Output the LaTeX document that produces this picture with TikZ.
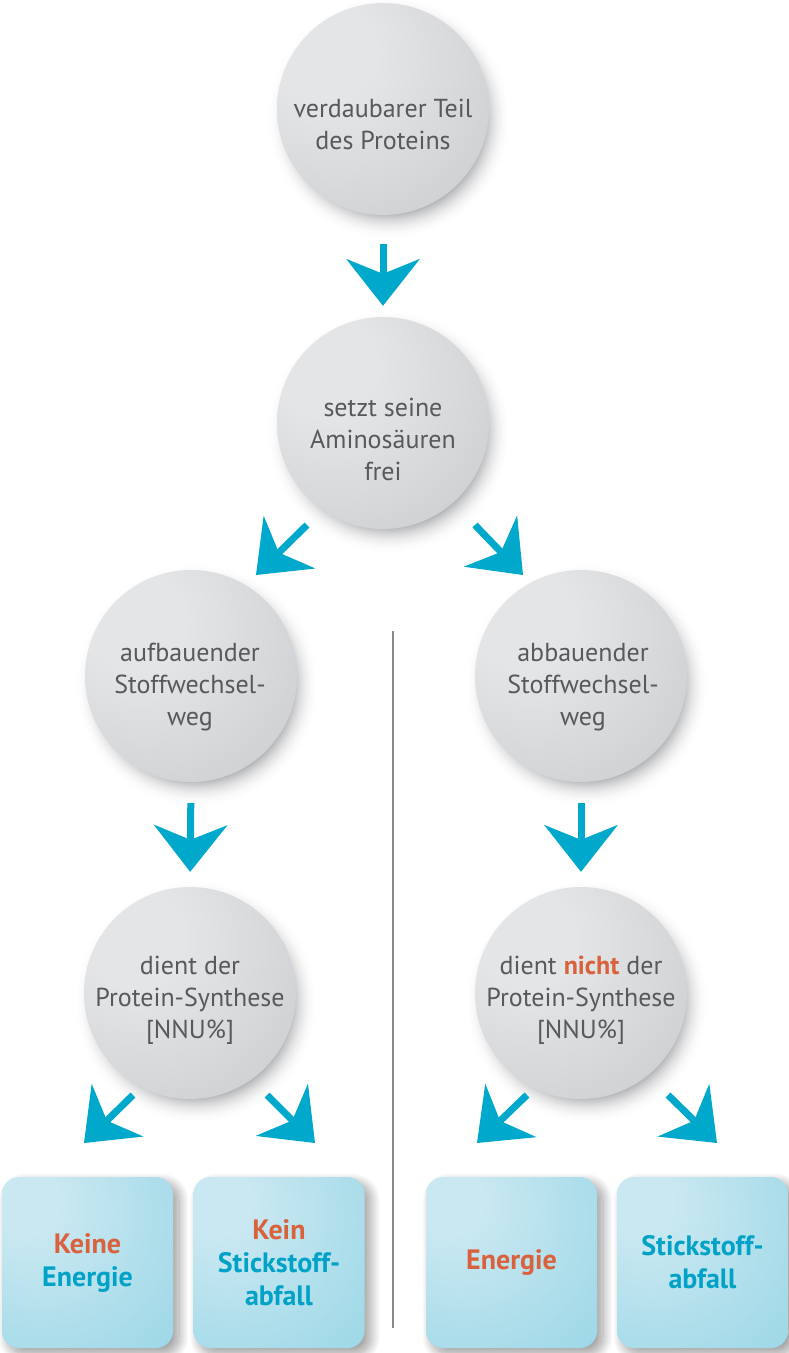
\documentclass[tikz,border=0pt]{standalone}
\usepackage{fontspec}
\setmainfont{PT Sans}
\usetikzlibrary{arrows.meta,shadows.blur}
\definecolor{ballA}{HTML}{E4E5E7}
\definecolor{ballB}{HTML}{BBBCBF}
\definecolor{boxA}{HTML}{C9E8F1}
\definecolor{boxB}{HTML}{86CFE2}
\definecolor{arrc}{HTML}{00A8CC}
\definecolor{txtg}{HTML}{58595B}
\definecolor{cyt}{HTML}{00A3C7}
\definecolor{orgt}{HTML}{D9613C}
\definecolor{sepl}{HTML}{8A8A8A}
\definecolor{shdA}{HTML}{A9AAAD}
\pgfdeclareradialshading{ballshade}{\pgfpoint{-15bp}{15bp}}{color(0bp)=(ballA); color(12bp)=(ballA); color(68bp)=(ballB); color(100bp)=(ballB)}
\pgfdeclareradialshading{boxshade}{\pgfpoint{-20bp}{20bp}}{color(0bp)=(boxA); color(10bp)=(boxA); color(70bp)=(boxB); color(100bp)=(boxB)}
\tikzset{
  ball/.style={circle, minimum size=212pt, inner sep=0pt, shading=ballshade},
  balltext/.style={align=center, text=txtg, font=\fontsize{26pt}{32pt}\selectfont, inner sep=0pt},
  boxn/.style={rectangle, rounded corners=17pt, minimum width=171pt, minimum height=171pt,
    inner sep=0pt, shading=boxshade, align=center, text=cyt,
    font=\fontsize{28pt}{33pt}\selectfont\bfseries,
    blur shadow={shadow xshift=6pt, shadow yshift=-6pt, shadow blur radius=10pt, shadow opacity=40, shadow blur steps=25}},
  arr/.style={draw=arrc, line width=7pt, -{Stealth[length=47pt, width=74pt, inset=15pt, line width=0pt, fill=arrc]}},
}
\begin{document}
\begin{tikzpicture}[x=1pt, y=-1pt]
\useasboundingbox (0,0) rectangle (789,1353);
% positions
\coordinate (p1) at (383,109);
\coordinate (p2) at (383,423);
\coordinate (p3) at (191,676);
\coordinate (p4) at (581,676);
\coordinate (p5) at (190,993);
\coordinate (p6) at (581,993);
% soft shadows of the discs
\foreach \p in {p1,p2,p3,p4,p5,p6}{
  \foreach \k in {0,...,28}{
    \pgfmathsetmacro{\rr}{122-\k}
    \pgfmathsetmacro{\pc}{min(100,\k*\k/7.84)}
    \fill[shdA!\pc!white] ([shift={(6,9)}]\p) circle (\rr pt);
  }
}
% separator
\coordinate (sepTop) at (393,631);
\coordinate (sepBot) at (393,1328);
\draw[sepl, line width=2pt] (sepTop) -- (sepBot);
% circles
\node[ball] (c1) at (p1) {};
\node[ball] (c2) at (p2) {};
\node[ball] (c3) at (p3) {};
\node[ball] (c4) at (p4) {};
\node[ball] (c5) at (p5) {};
\node[ball] (c6) at (p6) {};
\node[balltext] (t1) at (383,124) {verdaubarer Teil\\des Proteins};
\node[balltext] (t2) at (383,439) {setzt seine\\Aminosäuren\\frei};
\node[balltext] (t3) at (190,687) {aufbauender\\Stoffwechsel-\\weg};
\node[balltext] (t4) at (583,687) {abbauender\\Stoffwechsel-\\weg};
\node[balltext] (t5) at (190,1000) {dient der\\Protein-Synthese\\{[NNU\%]}};
\node[balltext] (t6) at (581,1000) {dient \textcolor{orgt}{\bfseries nicht} der\\Protein-Synthese\\{[NNU\%]}};
% boxes
\node[boxn] (b1) at (87.5,1262.5) {\textcolor{orgt}{Keine}\\Energie};
\node[boxn] (b2) at (279,1262.5) {\textcolor{orgt}{Kein}\\Stickstoff-\\abfall};
\node[boxn] (b3) at (511.5,1262.5) {\textcolor{orgt}{Energie}};
\node[boxn] (b4) at (702.5,1262.5) {Stickstoff-\\abfall};
% arrows
\draw[arr, shorten <=29pt, shorten >=11pt] (c1.south) -- (c2.north);
\draw[arr, shorten <=21pt, shorten >=15pt] (c3.south) -- (c5.north);
\draw[arr, shorten <=21pt, shorten >=15pt] (c4.south) -- (c6.north);
\coordinate (a1s) at (307,525); \coordinate (a1t) at (256,575);
\coordinate (a2s) at (475,525); \coordinate (a2t) at (523,575);
\coordinate (a3s) at (133,1095); \coordinate (a3t) at (84,1143);
\coordinate (a4s) at (267,1095); \coordinate (a4t) at (315,1143);
\coordinate (a5s) at (527,1095); \coordinate (a5t) at (477,1143);
\coordinate (a6s) at (668,1095); \coordinate (a6t) at (717,1143);
\draw[arr] (a1s) -- (a1t);
\draw[arr] (a2s) -- (a2t);
\draw[arr] (a3s) -- (a3t);
\draw[arr] (a4s) -- (a4t);
\draw[arr] (a5s) -- (a5t);
\draw[arr] (a6s) -- (a6t);
\end{tikzpicture}
\end{document}
